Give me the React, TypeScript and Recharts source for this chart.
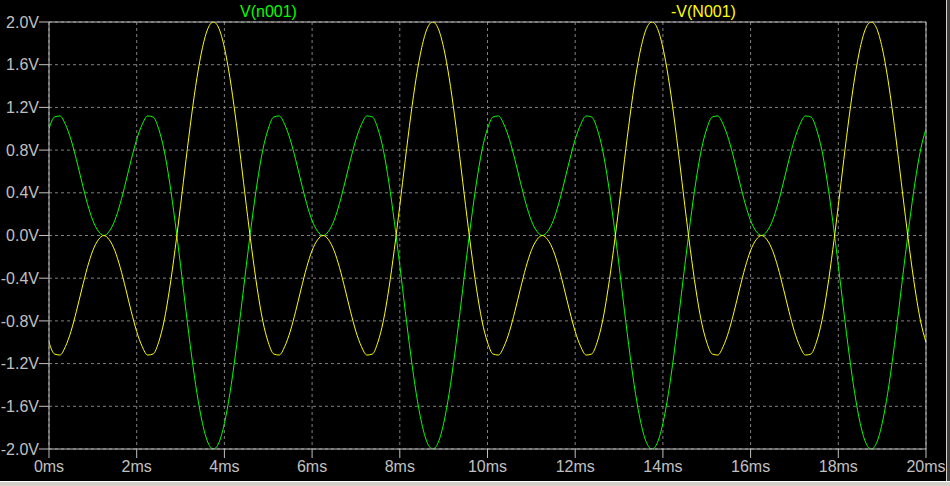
import React from 'react';
import { LineChart, Line, XAxis, YAxis, CartesianGrid, ReferenceLine } from 'recharts';

// time in ms
const timeMs = [
  0, 0.125, 0.25, 0.375, 0.5, 0.625, 0.75, 0.875, 1, 1.125, 1.25, 1.375, 1.5, 1.625, 1.75, 1.875,
  2, 2.125, 2.25, 2.375, 2.5, 2.625, 2.75, 2.875, 3, 3.125, 3.25, 3.375, 3.5, 3.625, 3.75, 3.875,
  4, 4.125, 4.25, 4.375, 4.5, 4.625, 4.75, 4.875, 5, 5.125, 5.25, 5.375, 5.5, 5.625, 5.75, 5.875,
  6, 6.125, 6.25, 6.375, 6.5, 6.625, 6.75, 6.875, 7, 7.125, 7.25, 7.375, 7.5, 7.625, 7.75, 7.875,
  8, 8.125, 8.25, 8.375, 8.5, 8.625, 8.75, 8.875, 9, 9.125, 9.25, 9.375, 9.5, 9.625, 9.75, 9.875,
  10, 10.125, 10.25, 10.375, 10.5, 10.625, 10.75, 10.875, 11, 11.125, 11.25, 11.375, 11.5, 11.625, 11.75, 11.875,
  12, 12.125, 12.25, 12.375, 12.5, 12.625, 12.75, 12.875, 13, 13.125, 13.25, 13.375, 13.5, 13.625, 13.75, 13.875,
  14, 14.125, 14.25, 14.375, 14.5, 14.625, 14.75, 14.875, 15, 15.125, 15.25, 15.375, 15.5, 15.625, 15.75, 15.875,
  16, 16.125, 16.25, 16.375, 16.5, 16.625, 16.75, 16.875, 17, 17.125, 17.25, 17.375, 17.5, 17.625, 17.75, 17.875,
  18, 18.125, 18.25, 18.375, 18.5, 18.625, 18.75, 18.875, 19, 19.125, 19.25, 19.375, 19.5, 19.625, 19.75, 19.875,
  20,
];

// V(n001) in volts
const vN001 = [
  1.00, 1.11, 1.12, 1.04, 0.90, 0.71, 0.50, 0.30, 0.14, 0.04, 0.00, 0.04, 0.14, 0.30, 0.50, 0.71,
  0.90, 1.04, 1.12, 1.11, 1.00, 0.80, 0.50, 0.13, -0.28, -0.71, -1.12, -1.48, -1.76, -1.94, -2.00, -1.94,
  -1.76, -1.48, -1.12, -0.71, -0.28, 0.13, 0.50, 0.80,
  1.00, 1.11, 1.12, 1.04, 0.90, 0.71, 0.50, 0.30, 0.14, 0.04, 0.00, 0.04, 0.14, 0.30, 0.50, 0.71,
  0.90, 1.04, 1.12, 1.11, 1.00, 0.80, 0.50, 0.13, -0.28, -0.71, -1.12, -1.48, -1.76, -1.94, -2.00, -1.94,
  -1.76, -1.48, -1.12, -0.71, -0.28, 0.13, 0.50, 0.80,
  1.00, 1.11, 1.12, 1.04, 0.90, 0.71, 0.50, 0.30, 0.14, 0.04, 0.00, 0.04, 0.14, 0.30, 0.50, 0.71,
  0.90, 1.04, 1.12, 1.11, 1.00, 0.80, 0.50, 0.13, -0.28, -0.71, -1.12, -1.48, -1.76, -1.94, -2.00, -1.94,
  -1.76, -1.48, -1.12, -0.71, -0.28, 0.13, 0.50, 0.80,
  1.00, 1.11, 1.12, 1.04, 0.90, 0.71, 0.50, 0.30, 0.14, 0.04, 0.00, 0.04, 0.14, 0.30, 0.50, 0.71,
  0.90, 1.04, 1.12, 1.11, 1.00, 0.80, 0.50, 0.13, -0.28, -0.71, -1.12, -1.48, -1.76, -1.94, -2.00, -1.94,
  -1.76, -1.48, -1.12, -0.71, -0.28, 0.13, 0.50, 0.80,
  1.00,
];

// -V(N001) in volts
const negVN001 = [
  -1.00, -1.11, -1.12, -1.04, -0.90, -0.71, -0.50, -0.30, -0.14, -0.04, 0.00, -0.04, -0.14, -0.30, -0.50, -0.71,
  -0.90, -1.04, -1.12, -1.11, -1.00, -0.80, -0.50, -0.13, 0.28, 0.71, 1.12, 1.48, 1.76, 1.94, 2.00, 1.94,
  1.76, 1.48, 1.12, 0.71, 0.28, -0.13, -0.50, -0.80,
  -1.00, -1.11, -1.12, -1.04, -0.90, -0.71, -0.50, -0.30, -0.14, -0.04, 0.00, -0.04, -0.14, -0.30, -0.50, -0.71,
  -0.90, -1.04, -1.12, -1.11, -1.00, -0.80, -0.50, -0.13, 0.28, 0.71, 1.12, 1.48, 1.76, 1.94, 2.00, 1.94,
  1.76, 1.48, 1.12, 0.71, 0.28, -0.13, -0.50, -0.80,
  -1.00, -1.11, -1.12, -1.04, -0.90, -0.71, -0.50, -0.30, -0.14, -0.04, 0.00, -0.04, -0.14, -0.30, -0.50, -0.71,
  -0.90, -1.04, -1.12, -1.11, -1.00, -0.80, -0.50, -0.13, 0.28, 0.71, 1.12, 1.48, 1.76, 1.94, 2.00, 1.94,
  1.76, 1.48, 1.12, 0.71, 0.28, -0.13, -0.50, -0.80,
  -1.00, -1.11, -1.12, -1.04, -0.90, -0.71, -0.50, -0.30, -0.14, -0.04, 0.00, -0.04, -0.14, -0.30, -0.50, -0.71,
  -0.90, -1.04, -1.12, -1.11, -1.00, -0.80, -0.50, -0.13, 0.28, 0.71, 1.12, 1.48, 1.76, 1.94, 2.00, 1.94,
  1.76, 1.48, 1.12, 0.71, 0.28, -0.13, -0.50, -0.80,
  -1.00,
];

const xTicks = [0, 2, 4, 6, 8, 10, 12, 14, 16, 18, 20];
const yTicks = [-2, -1.6, -1.2, -0.8, -0.4, 0, 0.4, 0.8, 1.2, 1.6, 2];
const seriesNames = ['V(n001)', '-V(N001)'];

const data = timeMs.map((t, i) => ({ t, v: vN001[i], nv: negVN001[i] }));

const FONT = '"Liberation Sans", Arial, sans-serif';
const AXIS = '#c0c0c0';
const GRID = '#808080';

export default function App() {
  return (
    <div
      style={{
        position: 'absolute',
        left: 0,
        top: 0,
        width: 950,
        height: 486,
        background: '#000',
        overflow: 'hidden',
      }}
    >
      <LineChart
        width={950}
        height={486}
        data={data}
        margin={{ top: 22, right: 24, bottom: 0, left: 0 }}
      >
        <CartesianGrid stroke={GRID} strokeDasharray="3 3" />
        <XAxis
          dataKey="t"
          type="number"
          domain={[0, 20]}
          ticks={xTicks}
          interval={0}
          tickFormatter={(v: number) => `${v}ms`}
          stroke={AXIS}
          tickSize={9}
          tickMargin={3}
          height={37}
          tick={{ fill: AXIS, fontSize: 16, fontFamily: FONT }}
          allowDataOverflow
        />
        <YAxis
          type="number"
          domain={[-2, 2]}
          ticks={yTicks}
          interval={0}
          tickFormatter={(v: number) => `${v.toFixed(1)}V`}
          stroke={AXIS}
          tickSize={10}
          tickMargin={0}
          width={49}
          tick={{ fill: AXIS, fontSize: 16, fontFamily: FONT }}
          allowDataOverflow
        />
        <ReferenceLine y={2} stroke={AXIS} />
        <ReferenceLine x={20} stroke={AXIS} />
        <Line
          dataKey="v"
          name={seriesNames[0]}
          type="monotone"
          stroke="#00ff00"
          strokeWidth={1}
          dot={false}
          isAnimationActive={false}
        />
        <Line
          dataKey="nv"
          name={seriesNames[1]}
          type="monotone"
          stroke="#ffff00"
          strokeWidth={1}
          dot={false}
          isAnimationActive={false}
        />
      </LineChart>
      <div
        style={{
          position: 'absolute',
          left: 240,
          top: 4,
          fontFamily: FONT,
          fontSize: 16,
          lineHeight: '16px',
          color: '#00ff00',
          whiteSpace: 'nowrap',
        }}
      >
        {seriesNames[0]}
      </div>
      <div
        style={{
          position: 'absolute',
          left: 671,
          top: 4,
          fontFamily: FONT,
          fontSize: 16,
          lineHeight: '16px',
          color: '#ffff00',
          whiteSpace: 'nowrap',
        }}
      >
        {seriesNames[1]}
      </div>
      <div style={{ position: 'absolute', left: 946, top: 0, width: 1, height: 481, background: '#d4d0c8' }} />
      <div style={{ position: 'absolute', left: 947, top: 0, width: 3, height: 481, background: '#404040' }} />
      <div style={{ position: 'absolute', left: 0, top: 481, width: 950, height: 1, background: '#ffffff' }} />
      <div style={{ position: 'absolute', left: 0, top: 482, width: 950, height: 4, background: '#d4d0c8' }} />
    </div>
  );
}
